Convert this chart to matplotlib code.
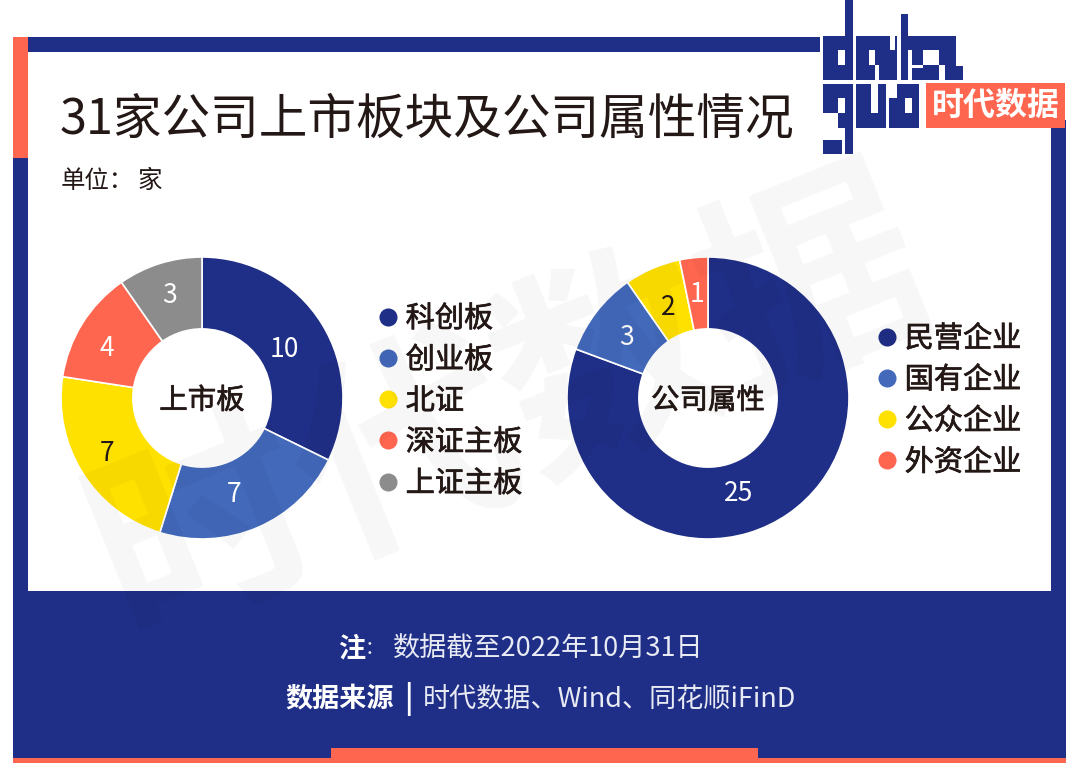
import matplotlib
matplotlib.use("Agg")
import matplotlib.pyplot as plt
import matplotlib.patheffects as pe
from matplotlib.patches import Rectangle
from matplotlib.lines import Line2D
from matplotlib.font_manager import FontProperties
import numpy as np

plt.rcParams['font.family'] = ['Noto Sans CJK SC', 'DejaVu Sans']

NAVY = '#1F2E86'; BLUE = '#4369BA'; YELLOW = '#FFE100'; CORAL = '#FF6650'; GRAY = '#8C8C8C'
INK = '#231815'; PALE = '#E8EAF4'

board_labels = ['科创板', '创业板', '北证', '深证主板', '上证主板']
board_values = [10, 7, 7, 4, 3]
board_colors = [NAVY, BLUE, YELLOW, CORAL, GRAY]
board_text = ['white', 'white', INK, 'white', 'white']
board_radii = [0.685, 0.70, 0.77, 0.77, 0.78]

owner_labels = ['民营企业', '国有企业', '公众企业', '外资企业']
owner_values = [25, 3, 2, 1]
owner_colors = [NAVY, BLUE, YELLOW, CORAL]
owner_text = ['white', 'white', INK, 'white']
owner_radii = [0.695, 0.73, 0.723, 0.757]

W, H = 1080, 780
fig = plt.figure(figsize=(W/100, H/100), dpi=100, facecolor='white')
bg = fig.add_axes([0, 0, 1, 1], zorder=0)
bg.set_xlim(0, W); bg.set_ylim(H, 0); bg.axis('off')

thick = [pe.withStroke(linewidth=0.5, foreground=INK)]

def box(x0, y0, x1, y1, c, z=1):
    bg.add_patch(Rectangle((x0, y0), x1-x0, y1-y0, fc=c, ec='none', zorder=z))

# frame
box(13, 37, 28, 763, NAVY)
box(28, 37, 820, 52, NAVY)
box(1051, 120, 1066, 763, NAVY)
box(13, 591, 1066, 758, NAVY)
box(13, 37, 28, 158, CORAL, 2)
box(13, 758, 1066, 763, CORAL, 2)
box(331, 748, 758, 763, CORAL, 2)
box(926, 83, 1065, 128, CORAL, 2)

# logo, in zoom coordinates of the reference corner
def lg(x0, y0, x1, y1, c=NAVY):
    bg.add_patch(Rectangle((780+x0/3, y0/3), (x1-x0)/3, (y1-y0)/3, fc=c, ec='none', zorder=3))
for r in [(195,0,219,110),(130,108,219,240),(228,108,350,240),(362,42,385,240),
          (385,108,528,150),(395,150,528,240),(528,198,550,240),
          (130,252,219,385),(195,385,219,462),(130,420,187,462),
          (228,252,318,385),(328,252,418,385)]:
    lg(*r)
for r in [(175,150,195,195),(268,150,285,195),(330,108,345,150),(285,195,296,240),
          (428,150,478,195),(395,195,428,205),(478,195,495,240),
          (175,295,195,340),(130,340,175,385),(272,252,295,340),(375,295,395,340),(328,252,352,295)]:
    lg(*r, c='white')

fig.text(995.5/W, 1-106/H, '时代数据', color='white', fontsize=23, fontweight='bold',
         ha='center', va='center', zorder=6)

# title
fig.text(60/W, 1-120/H, '31家公司上市板块及公司属性情况', color=INK, fontsize=35,
         ha='left', va='center', zorder=6)
fig.text(61/W, 1-181/H, '单位：', color=INK, fontsize=17.6, ha='left', va='center', zorder=6)
fig.text(137/W, 1-181/H, '家', color=INK, fontsize=17.6, ha='left', va='center', zorder=6)

def donut(cx, cy, values, colors, radii, text_colors, center, label_angle=None):
    R = 141
    ax = fig.add_axes([(cx-R)/W, 1-(cy+R)/H, 2*R/W, 2*R/H], zorder=2)
    ax.pie(values, colors=colors, startangle=90, counterclock=False, radius=1,
           wedgeprops=dict(width=0.51, edgecolor='white', linewidth=1.2))
    ax.set_xlim(-1, 1); ax.set_ylim(-1, 1)
    ax.set_aspect('equal')
    cum = np.cumsum(values)
    total = cum[-1]
    for i, v in enumerate(values):
        ang = (cum[i] - v/2) / total * 2*np.pi
        if label_angle and i in label_angle:
            ang = np.deg2rad(label_angle[i])
        ax.annotate(str(v), (radii[i]*np.sin(ang), radii[i]*np.cos(ang)), xytext=(0, -2),
                    textcoords='offset points', color=text_colors[i],
                    fontsize=19, ha='center', va='center')
    ax.annotate(center, (0, 0), xytext=(0, -2), textcoords='offset points', color=INK,
                fontsize=20.5, ha='center', va='center', path_effects=thick)
    return ax

donut(202, 398, board_values, board_colors, board_radii, board_text, '上市板', {1: 161, 2: 241, 3: 299})
donut(708, 398, owner_values, owner_colors, owner_radii, owner_text, '公司属性', {0: 162})

def legend(labels, colors, xleft, ytop):
    hs = [Line2D([], [], marker='o', ls='none', ms=13, mfc=c, mec='none') for c in colors]
    leg = fig.legend(hs, labels, loc='upper left', bbox_to_anchor=(xleft/W, 1-ytop/H),
                     frameon=False, labelcolor=INK, handletextpad=0.12,
                     prop=FontProperties(family='Noto Sans CJK SC', size=21),
                     handlelength=1.0, labelspacing=0.385, borderpad=0, borderaxespad=0)
    leg.set_zorder(5)
    for t in leg.get_texts():
        t.set_path_effects(thick)

legend(board_labels, board_colors, 373, 304)
legend(owner_labels, owner_colors, 872, 324)

# footer
fig.text(338/W, 1-648/H, '注', color='white', fontsize=19.5, fontweight='bold', ha='left', va='center', zorder=6)
fig.text(365/W, 1-648/H, '：', color=PALE, fontsize=14, ha='left', va='center', zorder=6)
fig.text(393/W, 1-648/H, '数据截至2022年10月31日', color=PALE, fontsize=19.5, ha='left', va='center', zorder=6)
fig.text(285/W, 1-699/H, '数据来源', color='white', fontsize=19.5, fontweight='bold', ha='left', va='center', zorder=6)
fig.text(408/W, 1-699/H, '|', color='white', fontsize=21, fontweight='bold', ha='center', va='center', zorder=6)
fig.text(423/W, 1-699/H, '时代数据、Wind、同花顺iFinD', color=PALE, fontsize=19.5, ha='left', va='center', zorder=6)

# watermark
fig.text(510/W, 1-410/H, '时代数据', color='black', alpha=0.035, fontsize=158, fontweight='bold',
         rotation=22, ha='center', va='center', zorder=7)

fig.savefig('out.png', dpi=100, facecolor='white')
